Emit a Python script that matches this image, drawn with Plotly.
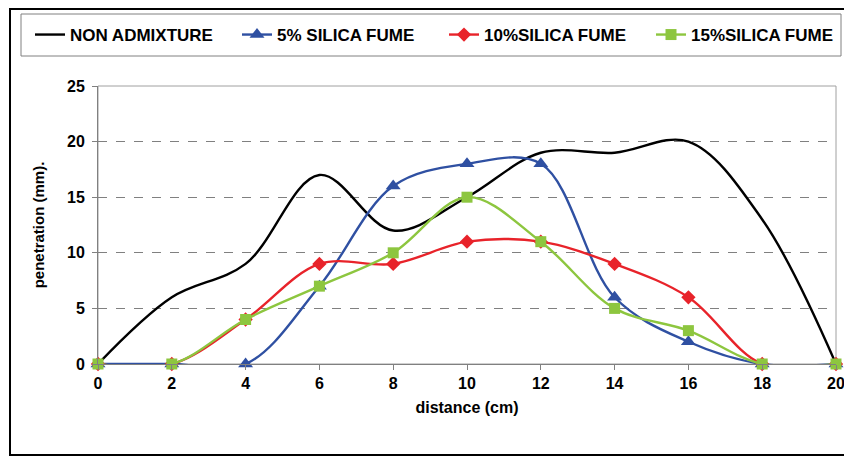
import plotly.graph_objects as go

distance = [0, 2, 4, 6, 8, 10, 12, 14, 16, 18, 20]
non_admixture = [0, 6, 9, 17, 12, 15, 19, 19, 20, 13, 0]
sf5 = [0, 0, 0, 7, 16, 18, 18, 6, 2, 0, 0]
sf10 = [0, 0, 4, 9, 9, 11, 11, 9, 6, 0, 0]
sf15 = [0, 0, 4, 7, 10, 15, 11, 5, 3, 0, 0]

names = ["NON ADMIXTURE", "5% SILICA FUME", "10%SILICA FUME", "15%SILICA FUME"]
colors = ["#000000", "#2F50A2", "#E8232A", "#8DC63F"]
symbols = [None, "triangle-up", "diamond", "square"]
sizes = [0, 13, 11, 11]
series = [non_admixture, sf5, sf10, sf15]

FONT = "Liberation Sans, Arial, sans-serif"

fig = go.Figure()
for name, col, sym, sz, ys in zip(names, colors, symbols, sizes, series):
    if sym is None:
        fig.add_trace(go.Scatter(x=distance, y=ys, name="<b>" + name + "</b>", mode="lines",
                                 cliponaxis=False,
                                 line=dict(color=col, width=2.4, shape="spline", smoothing=1)))
    else:
        fig.add_trace(go.Scatter(x=distance, y=ys, name="<b>" + name + "</b>", mode="lines+markers",
                                 cliponaxis=False,
                                 line=dict(color=col, width=2.4, shape="spline", smoothing=1),
                                 marker=dict(symbol=sym, size=sz, color=col)))

# page has an 8px body margin; figure coordinates = page - 8
OFF = 8
W, H = 852 - OFF, 457 - OFF
L, R, T, B = 98 - OFF, 852 - 836, 86 - OFF, 93
pw = W - L - R
ph = H - T - B

def px(p):
    return (p - OFF - L) / pw

def py(q):
    return (H - B - (q - OFF)) / ph

shapes = [
    dict(type="line", xref="paper", yref="paper", x0=px(10), x1=px(860), y0=py(9), y1=py(9),
         line=dict(color="black", width=2)),
    dict(type="line", xref="paper", yref="paper", x0=px(10), x1=px(860), y0=py(455), y1=py(455),
         line=dict(color="black", width=2)),
    dict(type="line", xref="paper", yref="paper", x0=px(10), x1=px(10), y0=py(456), y1=py(8),
         line=dict(color="black", width=2)),
    dict(type="rect", xref="paper", yref="paper", x0=px(21), x1=px(841), y0=py(56), y1=py(14),
         line=dict(color="#808080", width=1)),
    dict(type="rect", xref="paper", yref="paper", x0=0, x1=1, y0=0, y1=1,
         line=dict(color="#A0A0A0", width=1), layer="below"),
]

fig.update_layout(
    width=W, height=H,
    margin=dict(l=L, r=R, t=T, b=B, autoexpand=False),
    paper_bgcolor="white", plot_bgcolor="white",
    font=dict(family=FONT, color="black", size=14),
    shapes=shapes,
    showlegend=True,
    legend=dict(orientation="h", x=px(30), xanchor="left", y=py(35), yanchor="middle",
                font=dict(family=FONT, size=17, color="black"), bgcolor="rgba(0,0,0,0)",
                itemwidth=30, tracegroupgap=0, entrywidth=162, entrywidthmode="pixels"),
)
fig.update_xaxes(range=[0, 20], tickvals=distance, ticktext=["<b>%d</b>" % v for v in distance],
                 ticks="outside", ticklen=5, tickcolor="#808080",
                 showline=True, linecolor="#808080", linewidth=1, showgrid=False, zeroline=False,
                 tickfont=dict(family=FONT, size=16, color="black"),
                 title=dict(text="<b>distance (cm)</b>", font=dict(family=FONT, size=16), standoff=10))
yt = [0, 5, 10, 15, 20, 25]
fig.update_yaxes(range=[0, 25], tickvals=yt, ticktext=["<b>%d</b>" % v for v in yt],
                 ticks="outside", ticklen=5,
                 tickcolor="#808080", showline=True, linecolor="#808080", linewidth=1,
                 showgrid=True, gridcolor="#808080", griddash="dash", gridwidth=1, zeroline=False,
                 tickfont=dict(family=FONT, size=16, color="black"), ticklabelstandoff=4,
                 title=dict(text="<b>penetration (mm).</b>", font=dict(family=FONT, size=15), standoff=18))

fig.write_html("out.html")
